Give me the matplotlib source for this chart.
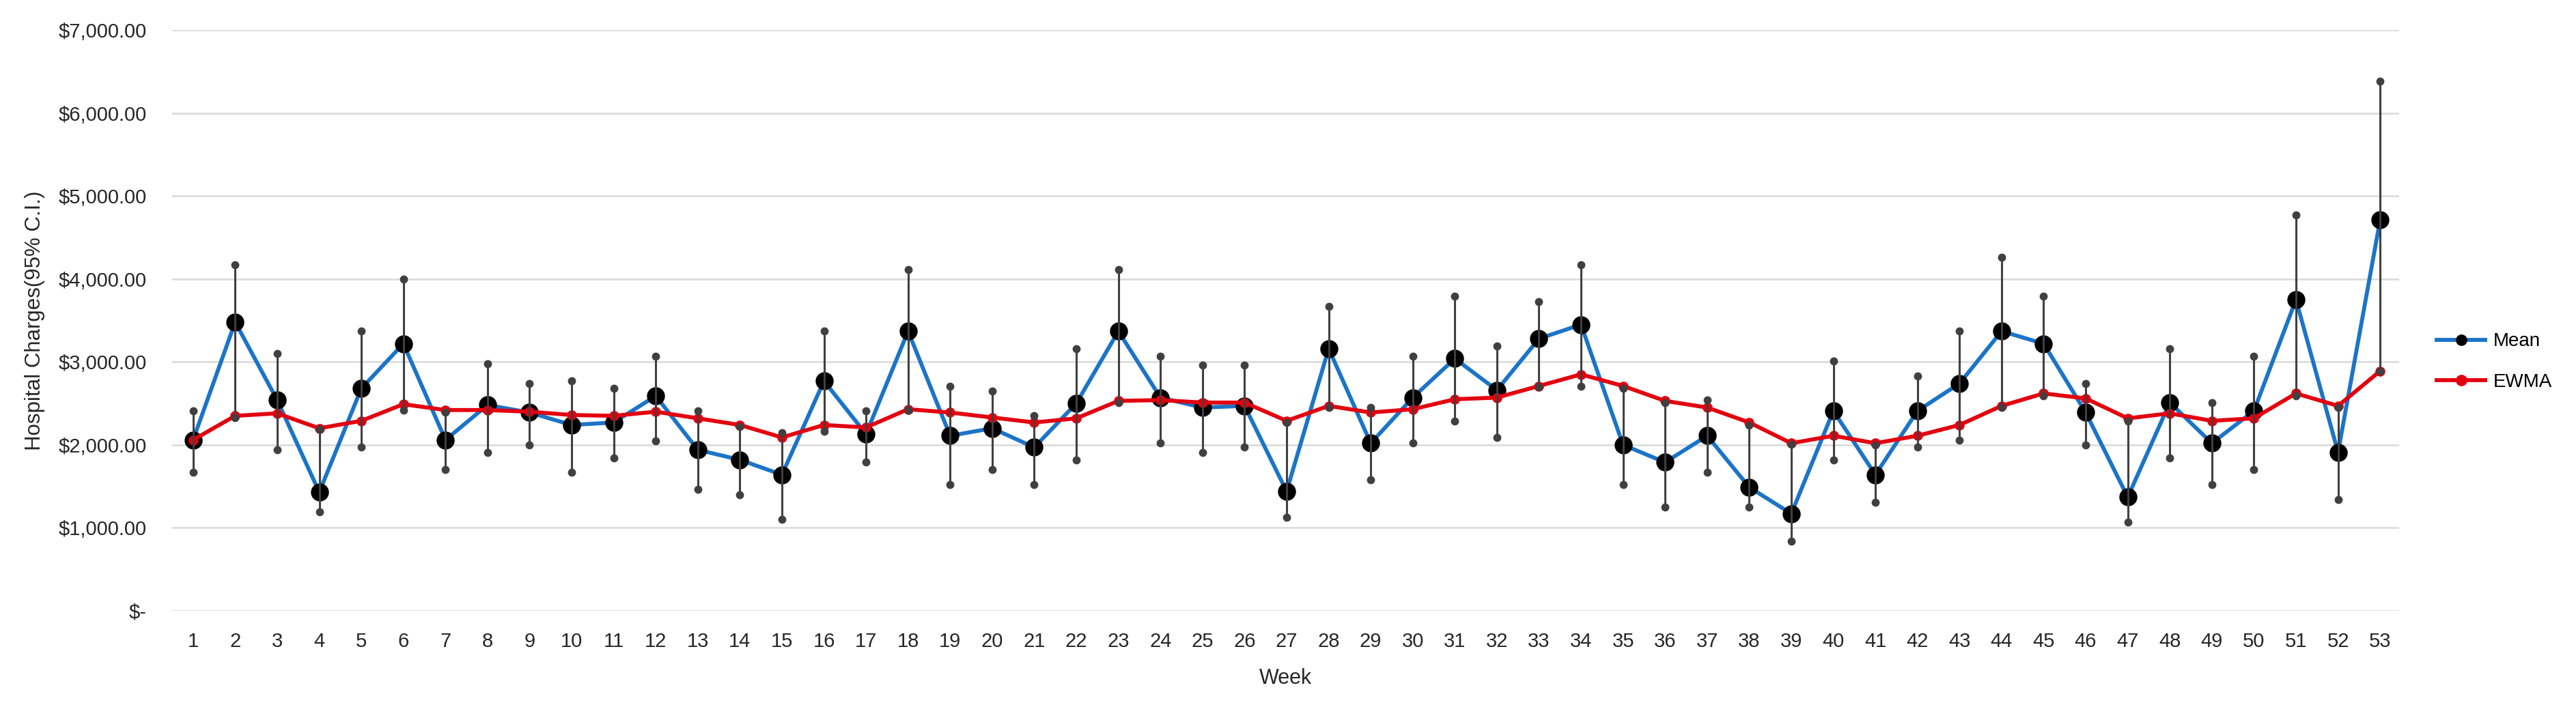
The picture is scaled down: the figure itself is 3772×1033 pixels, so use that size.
import matplotlib
matplotlib.use("Agg")
import matplotlib.pyplot as plt
from matplotlib.lines import Line2D
import numpy as np

# Weekly hospital charges
weeks = list(range(1, 54))
mean = [2060, 3480, 2540, 1430, 2680, 3220, 2060, 2480, 2390, 2240,
        2270, 2590, 1940, 1820, 1640, 2770, 2130, 3370, 2110, 2200,
        1970, 2500, 3370, 2570, 2450, 2470, 1440, 3160, 2020, 2570,
        3040, 2660, 3280, 3450, 2000, 1790, 2110, 1490, 1170, 2410,
        1640, 2410, 2740, 3370, 3220, 2390, 1370, 2510, 2020, 2410,
        3750, 1910, 4710]
upper = [2410, 4170, 3100, 2190, 3370, 4000, 2390, 2980, 2740, 2770,
         2680, 3070, 2410, 2220, 2150, 3370, 2410, 4110, 2710, 2650,
         2350, 3160, 4110, 3070, 2960, 2960, 2270, 3670, 2450, 3070,
         3790, 3190, 3730, 4170, 2680, 2510, 2540, 2240, 2010, 3010,
         2000, 2830, 3370, 4260, 3790, 2740, 2290, 3160, 2510, 3070,
         4770, 2450, 6380]
lower = [1670, 2330, 1940, 1190, 1970, 2420, 1700, 1910, 2000, 1670,
         1840, 2050, 1460, 1400, 1100, 2160, 1790, 2420, 1520, 1700,
         1520, 1820, 2510, 2020, 1910, 1970, 1130, 2450, 1580, 2020,
         2290, 2090, 2700, 2710, 1520, 1250, 1670, 1250, 840, 1820,
         1310, 1970, 2060, 2450, 2590, 2000, 1070, 1840, 1520, 1700,
         2590, 1340, 2890]
ewma = [2060, 2350, 2380, 2200, 2290, 2490, 2420, 2420, 2400, 2360,
        2350, 2400, 2320, 2240, 2090, 2240, 2210, 2430, 2390, 2330,
        2270, 2320, 2530, 2540, 2510, 2510, 2290, 2470, 2390, 2430,
        2550, 2570, 2710, 2850, 2710, 2530, 2450, 2270, 2020, 2110,
        2020, 2110, 2240, 2470, 2620, 2560, 2320, 2380, 2290, 2320,
        2620, 2470, 2890]

plt.rcParams['font.family'] = ['Liberation Sans', 'DejaVu Sans']

fig = plt.figure(figsize=(37.72, 10.33), dpi=100)
ax = fig.add_axes([0.0668, 0.1336, 0.8645, 0.8238])

blue = '#1b74c8'
red = '#e3000f'
grey = '#404040'

# mean line with black markers
ax.plot(weeks, mean, color=blue, lw=4.2, marker='o', markersize=18,
        markerfacecolor='black', markeredgecolor='black', zorder=3)
# EWMA line
ax.plot(weeks, ewma, color=red, lw=4.2, marker='o', markersize=9.5,
        markerfacecolor=red, markeredgecolor=red, zorder=4)
# 95% C.I. error bars with dot ends
ax.vlines(weeks, lower, upper, color=grey, lw=2.2, zorder=5)
ax.plot(weeks, upper, ls='none', marker='o', markersize=7.5, color=grey, zorder=6)
ax.plot(weeks, lower, ls='none', marker='o', markersize=7.5, color=grey, zorder=6)

ax.set_xlim(0.5, 53.45)
ax.set_ylim(0, 7000)
ax.set_xticks(weeks)
ax.set_xticklabels([str(w) for w in weeks])
yt = np.arange(0, 7001, 1000)
ax.set_yticks(yt)
ax.set_yticklabels(['$-'] + ['${:,.2f}'.format(v) for v in yt[1:]])
ax.tick_params(axis='both', length=0, labelsize=21, colors='#262626')
ax.tick_params(axis='x', pad=22)
ax.tick_params(axis='y', pad=27)

ax.grid(axis='y', color='#d9d9d9', lw=1.8)
ax.set_axisbelow(True)
for s in ax.spines.values():
    s.set_visible(False)

ax.set_xlabel('Week', fontsize=22, color='#262626', labelpad=18)
ax.set_ylabel('Hospital Charges(95% C.I.)', fontsize=22.5, color='#262626', labelpad=14)

handles = [
    Line2D([], [], color=blue, lw=4.2, marker='o', markersize=11,
           markerfacecolor='black', markeredgecolor='black'),
    Line2D([], [], color=red, lw=4.2, marker='o', markersize=11,
           markerfacecolor=red, markeredgecolor=red),
]
fig.legend(handles, ['Mean', 'EWMA'], loc='center left',
           bbox_to_anchor=(0.946, 0.487), frameon=False, fontsize=20,
           handlelength=2.55, handletextpad=0.4, labelspacing=1.2,
           borderpad=0, borderaxespad=0)

fig.savefig('out.png', dpi=100, facecolor='white')
